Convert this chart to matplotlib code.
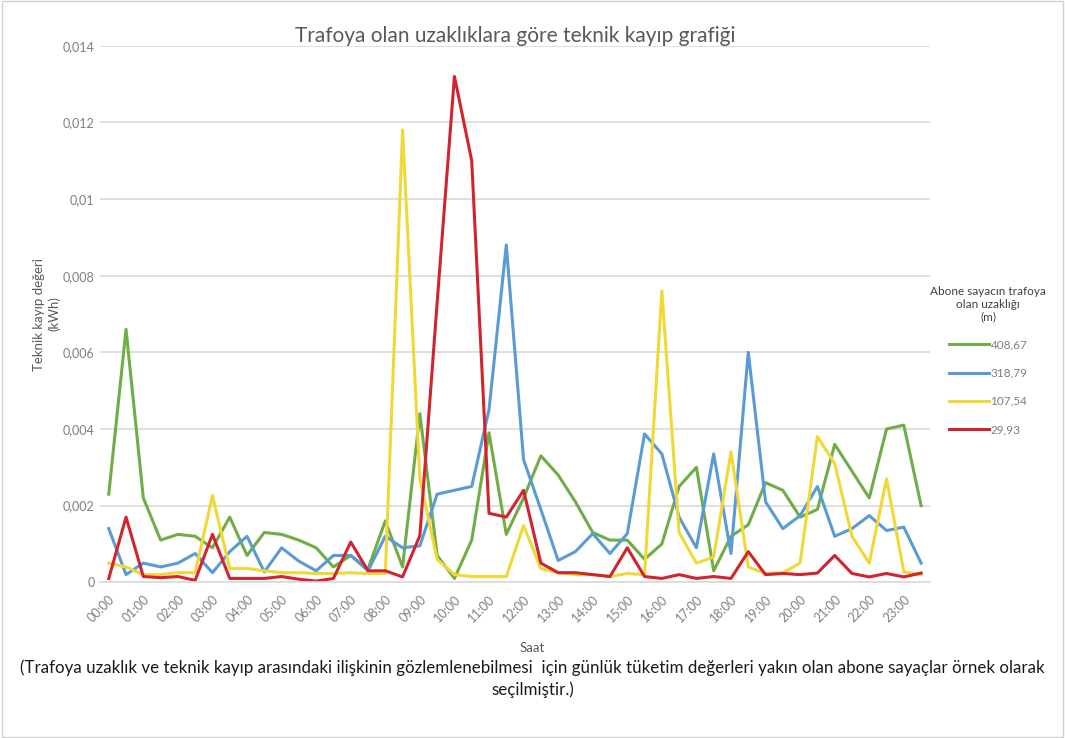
import matplotlib
matplotlib.use("Agg")
import matplotlib.pyplot as plt
from matplotlib.ticker import FuncFormatter, MultipleLocator
import numpy as np

plt.rcParams['font.family'] = ['Lato', 'DejaVu Sans']

# yarım saatlik ölçümler, 00:00 - 23:30
saatler = ["%02d:%02d" % (h, m) for h in range(24) for m in (0, 30)]

# teknik kayıp (kWh), abone sayacının trafoya uzaklığına göre
kayip_408_67 = [0.0023, 0.0066, 0.0022, 0.0011, 0.00125, 0.0012, 0.0009, 0.0017,
                0.0007, 0.0013, 0.00125, 0.0011, 0.0009, 0.0004, 0.0007, 0.00035,
                0.0016, 0.0004, 0.0044, 0.0007, 0.0001, 0.0011, 0.0039, 0.00125,
                0.0022, 0.0033, 0.0028, 0.0021, 0.0013, 0.0011, 0.0011, 0.0006,
                0.001, 0.0025, 0.003, 0.0003, 0.0012, 0.0015, 0.0026, 0.0024,
                0.0017, 0.0019, 0.0036, 0.0029, 0.0022, 0.004, 0.0041, 0.002]
kayip_318_79 = [0.0014, 0.0002, 0.0005, 0.0004, 0.0005, 0.00075, 0.00025, 0.0008,
                0.0012, 0.00027, 0.0009, 0.00055, 0.0003, 0.0007, 0.0007, 0.0003,
                0.0012, 0.0009, 0.00095, 0.0023, 0.0024, 0.0025, 0.0045, 0.0088,
                0.0032, 0.0019, 0.00057, 0.0008, 0.00127, 0.00075, 0.00127, 0.00387,
                0.00335, 0.0017, 0.0009, 0.00335, 0.00075, 0.006, 0.0021, 0.0014,
                0.00174, 0.0025, 0.0012, 0.0014, 0.00174, 0.00135, 0.00144, 0.0005]
kayip_107_54 = [0.0005, 0.0004, 0.0002, 0.0002, 0.00025, 0.00025, 0.00226, 0.00036,
                0.00036, 0.0003, 0.00025, 0.00025, 0.00023, 0.00023, 0.00025, 0.00023,
                0.00023, 0.0118, 0.0027, 0.0006, 0.0002, 0.00015, 0.00015, 0.00015,
                0.00148, 0.00036, 0.00025, 0.0002, 0.0002, 0.00015, 0.00023, 0.0002,
                0.0076, 0.0013, 0.0005, 0.00066, 0.0034, 0.0004, 0.00023, 0.00025,
                0.0005, 0.0038, 0.0031, 0.0012, 0.0005, 0.0027, 0.00027, 0.0002]
kayip_29_93 = [0.0001, 0.0017, 0.00015, 0.00012, 0.00015, 0.00005, 0.00125, 0.0001,
               0.0001, 0.0001, 0.00015, 0.00008, 0.00003, 0.0001, 0.00105, 0.0003,
               0.0003, 0.00014, 0.00122, 0.0073, 0.0132, 0.011, 0.0018, 0.0017,
               0.0024, 0.0005, 0.00025, 0.00025, 0.0002, 0.00015, 0.0009, 0.00015,
               0.0001, 0.0002, 0.0001, 0.00015, 0.0001, 0.0008, 0.0002, 0.00023,
               0.0002, 0.00024, 0.0007, 0.00023, 0.00014, 0.00023, 0.00014, 0.00024]

seriler = [("408,67", kayip_408_67, "#70AD47"),
           ("318,79", kayip_318_79, "#5B9BD5"),
           ("107,54", kayip_107_54, "#F0D837"),
           ("29,93", kayip_29_93, "#D02530")]

fig = plt.figure(figsize=(10.65, 7.38), dpi=100)
ax = fig.add_axes([0.094, 0.211, 0.779, 0.727])

x = np.arange(len(saatler))
for ad, deger, renk in seriler:
    ax.plot(x, deger, color=renk, lw=2.2, label=ad)

ax.set_xlim(-0.5, len(saatler) - 0.5)
ax.set_ylim(0, 0.014)
ax.yaxis.set_major_locator(MultipleLocator(0.002))
ax.yaxis.set_major_formatter(FuncFormatter(lambda v, p: ("%g" % round(v, 4)).replace(".", ",")))
ax.set_xticks(x[::2])
ax.set_xticklabels(saatler[::2], rotation=45, ha="right", rotation_mode="anchor")
ax.tick_params(axis="both", length=0, colors="#7f7f7f", labelsize=9)
ax.tick_params(axis="x", pad=8)
ax.tick_params(axis="y", pad=4)
ax.grid(axis="y", color="#d9d9d9", lw=1.2)
ax.set_axisbelow(True)
for s in ["top", "right", "left"]:
    ax.spines[s].set_visible(False)
ax.spines["bottom"].set_color("#d9d9d9")
ax.spines["bottom"].set_linewidth(1.2)

ax.set_title("Trafoya olan uzaklıklara göre teknik kayıp grafiği",
             fontsize=15, color="#595959", pad=2)
ax.set_ylabel("Teknik kayıp değeri\n(kWh)", fontsize=9.5, color="#595959", labelpad=2)
fig.text(0.5, 0.117, "Saat", ha="center", fontsize=9.5, color="#595959")

fig.text(0.5, 0.088,
         "(Trafoya uzaklık ve teknik kayıp arasındaki ilişkinin gözlemlenebilmesi  için "
         "günlük tüketim değerleri yakın olan abone sayaçlar örnek olarak",
         ha="center", fontsize=12.2, color="#1a1a1a")
fig.text(0.5, 0.058, "seçilmiştir.)", ha="center", fontsize=12.2, color="#1a1a1a")

leg = fig.legend(loc="upper center", bbox_to_anchor=(0.928, 0.627), frameon=False,
                 title="Abone sayacın trafoya\nolan uzaklığı\n(m)",
                 fontsize=8.5, title_fontsize=8.5, handlelength=3.4, labelspacing=1.45,
                 handletextpad=0.1)
leg.get_title().set_multialignment("center")
leg.get_title().set_color("#404040")
for t in leg.get_texts():
    t.set_color("#7f7f7f")

# ince çerçeve
fig.patches.append(plt.Rectangle((0.002, 0.002), 0.996, 0.996, transform=fig.transFigure,
                                 fill=False, edgecolor="#d0d0d0", lw=1))

fig.savefig("out.png", dpi=100, facecolor="white")
